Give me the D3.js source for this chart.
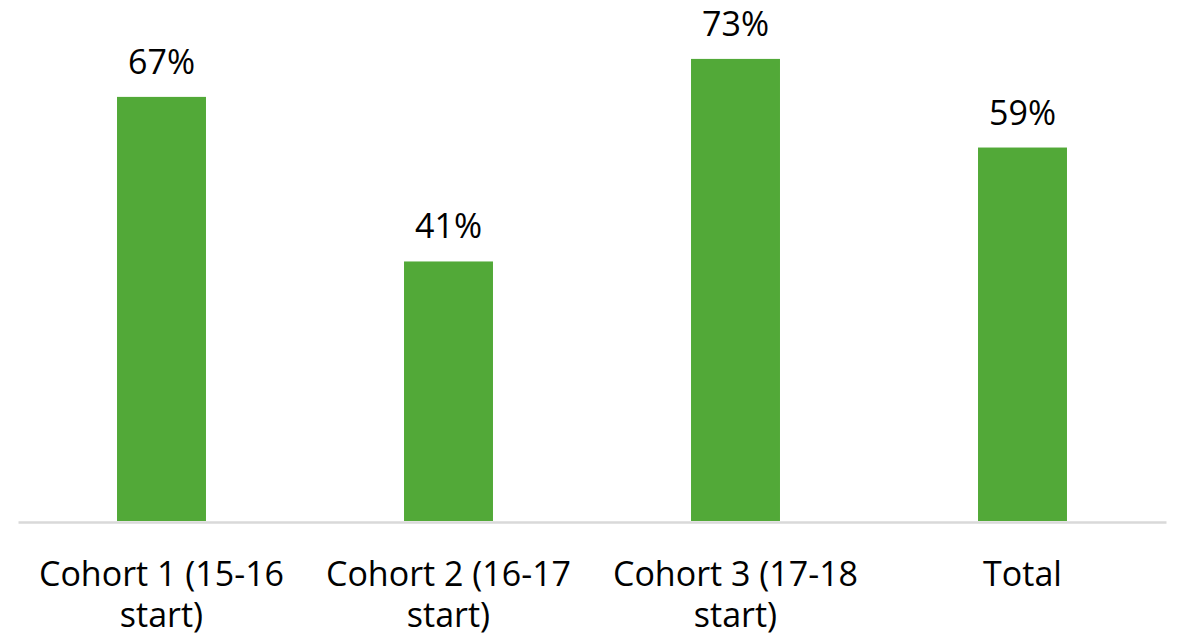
<!DOCTYPE html>
<html><head><meta charset="utf-8">
<script src="https://cdn.jsdelivr.net/npm/d3@7"></script>
<style>body{margin:0;background:#fff}svg{display:block}</style>
</head><body>
<svg id="chart" width="1177" height="640"></svg>
<script>
const categories = ["Cohort 1 (15-16 start)", "Cohort 2 (16-17 start)", "Cohort 3 (17-18 start)", "Total"];
const values = [67, 41, 73, 59];
const valueLabels = ["67%", "41%", "73%", "59%"];

const svg = d3.select("#chart");
const font = "'Open Sans', sans-serif";
const fs = 34;
const x = d3.scaleBand().domain(categories).range([18, 1166]).paddingInner(0.69).paddingOuter(0.345);
const y = d3.scaleLinear().domain([0, 80]).range([521, 14.6]);

svg.selectAll("rect.bar").data(values).join("rect")
  .attr("class", "bar")
  .attr("x", (d, i) => x(categories[i]))
  .attr("width", x.bandwidth())
  .attr("y", d => y(d))
  .attr("height", d => y(0) - y(d))
  .attr("fill", "#52a938");

svg.selectAll("text.val").data(values).join("text")
  .attr("class", "val")
  .attr("x", (d, i) => x(categories[i]) + x.bandwidth() / 2)
  .attr("y", d => y(d) - 23)
  .attr("text-anchor", "middle")
  .attr("font-family", font).attr("font-size", fs).attr("fill", "#000")
  .text((d, i) => valueLabels[i]);

const axis = svg.append("g").attr("transform", "translate(0,522)")
  .call(d3.axisBottom(x).tickSize(0).tickPadding(0).tickFormat(""));
axis.select(".domain").attr("stroke", "#d9d9d9").attr("stroke-width", 2.5);

function wrapWords(text, maxW) {
  const words = text.split(" ");
  const lines = []; let cur = "";
  const probe = svg.append("text").attr("font-family", font).attr("font-size", fs);
  words.forEach(w => {
    const t = cur ? cur + " " + w : w;
    probe.text(t);
    if (probe.node().getComputedTextLength() > maxW && cur) { lines.push(cur); cur = w; }
    else cur = t;
  });
  if (cur) lines.push(cur);
  probe.remove();
  return lines;
}

categories.forEach(c => {
  const lines = wrapWords(c, x.step() - 6);
  const cx = x(c) + x.bandwidth() / 2;
  const t = svg.append("text")
    .attr("x", cx)
    .attr("y", 586)
    .attr("text-anchor", "middle")
    .attr("font-family", font).attr("font-size", fs).attr("fill", "#000");
  lines.forEach((l, i) => t.append("tspan").attr("x", cx).attr("y", 586 + i * 41).text(l));
});
</script>
</body></html>
